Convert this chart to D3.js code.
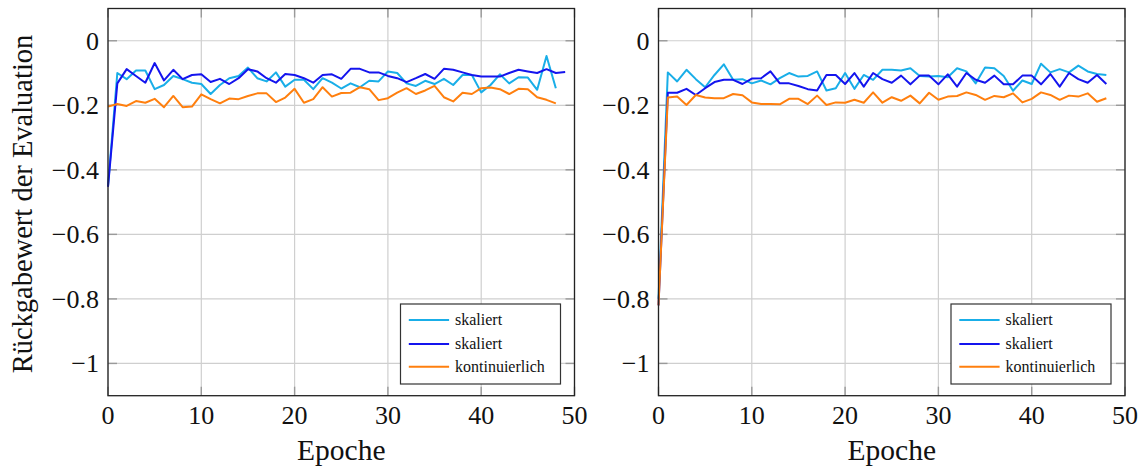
<!DOCTYPE html>
<html>
<head>
<meta charset="utf-8">
<script src="https://cdn.jsdelivr.net/npm/d3@7"></script>
<style>
  body { margin: 0; background: #fff; }
  text { font-family: "Liberation Serif", "DejaVu Serif", serif; fill: #111; }
</style>
</head>
<body>
<div id="chart"></div>
<script>
// Werte
const xTicks = [0, 10, 20, 30, 40, 50];
const yTicks = [0, -0.2, -0.4, -0.6, -0.8, -1];
const legendNames = ["skaliert", "skaliert", "kontinuierlich"];
const colors = ["#19aee8", "#1414ee", "#ff7f0e"];

// linkes Diagramm
const leftScaled1 = [-0.45, -0.100, -0.119, -0.092, -0.092, -0.150, -0.137, -0.109, -0.119, -0.130,
  -0.134, -0.165, -0.137, -0.116, -0.109, -0.083, -0.116, -0.126, -0.098, -0.142,
  -0.121, -0.121, -0.150, -0.116, -0.130, -0.148, -0.132, -0.144, -0.124, -0.126,
  -0.095, -0.100, -0.132, -0.140, -0.124, -0.134, -0.118, -0.137, -0.106, -0.106,
  -0.160, -0.137, -0.104, -0.132, -0.113, -0.114, -0.152, -0.047, -0.147];
const leftScaled2 = [-0.453, -0.132, -0.088, -0.109, -0.130, -0.069, -0.123, -0.090, -0.119, -0.106,
  -0.104, -0.128, -0.118, -0.134, -0.116, -0.088, -0.095, -0.116, -0.130, -0.103,
  -0.106, -0.116, -0.130, -0.106, -0.104, -0.118, -0.087, -0.087, -0.098, -0.098,
  -0.109, -0.116, -0.128, -0.116, -0.103, -0.118, -0.087, -0.090, -0.098, -0.106,
  -0.111, -0.111, -0.111, -0.100, -0.090, -0.095, -0.100, -0.088, -0.100, -0.097];
const leftCont = [-0.204, -0.196, -0.202, -0.187, -0.192, -0.180, -0.206, -0.171, -0.206, -0.204,
  -0.166, -0.181, -0.194, -0.179, -0.181, -0.171, -0.163, -0.163, -0.190, -0.176,
  -0.149, -0.192, -0.181, -0.144, -0.173, -0.162, -0.161, -0.144, -0.150, -0.184,
  -0.178, -0.161, -0.147, -0.165, -0.154, -0.140, -0.175, -0.188, -0.161, -0.165,
  -0.147, -0.145, -0.150, -0.165, -0.149, -0.150, -0.175, -0.183, -0.194];

// rechtes Diagramm
const rightScaled1 = [-0.80, -0.098, -0.126, -0.090, -0.119, -0.144, -0.106, -0.073, -0.121, -0.119,
  -0.132, -0.123, -0.135, -0.116, -0.100, -0.111, -0.109, -0.095, -0.154, -0.147,
  -0.100, -0.149, -0.106, -0.121, -0.090, -0.090, -0.092, -0.085, -0.109, -0.111,
  -0.109, -0.113, -0.085, -0.095, -0.132, -0.083, -0.085, -0.109, -0.155, -0.123,
  -0.134, -0.071, -0.098, -0.088, -0.098, -0.077, -0.095, -0.103, -0.106];
const rightScaled2 = [-0.82, -0.161, -0.161, -0.149, -0.168, -0.147, -0.128, -0.121, -0.121, -0.134,
  -0.117, -0.116, -0.095, -0.132, -0.132, -0.140, -0.150, -0.154, -0.106, -0.106,
  -0.134, -0.100, -0.142, -0.100, -0.119, -0.130, -0.108, -0.135, -0.108, -0.108,
  -0.135, -0.104, -0.142, -0.100, -0.121, -0.130, -0.108, -0.135, -0.135, -0.108,
  -0.108, -0.135, -0.103, -0.142, -0.100, -0.119, -0.130, -0.106, -0.134];
const rightCont = [-0.82, -0.176, -0.173, -0.199, -0.168, -0.176, -0.178, -0.178, -0.165, -0.169,
  -0.191, -0.196, -0.196, -0.197, -0.180, -0.180, -0.196, -0.170, -0.199, -0.191,
  -0.192, -0.183, -0.192, -0.160, -0.192, -0.175, -0.186, -0.170, -0.194, -0.161,
  -0.183, -0.173, -0.171, -0.160, -0.168, -0.183, -0.171, -0.175, -0.163, -0.191,
  -0.180, -0.160, -0.168, -0.183, -0.170, -0.173, -0.163, -0.189, -0.178];

const W = 1144, H = 468;
const plotW = 466.5, plotTop = 8.5, plotBottom = 395.7;

const svg = d3.select("#chart").append("svg")
  .attr("width", W)
  .attr("height", H);

function drawPanel(left, seriesList, withYLabel) {
  const g = svg.append("g").attr("transform", "translate(" + left + ",0)");

  const x = d3.scaleLinear().domain([0, 50]).range([0, plotW]);
  const y = d3.scaleLinear().domain([-1.1, 0.1]).range([plotBottom, plotTop]);

  // Gitter
  g.selectAll(".gx").data(xTicks).enter().append("line")
    .attr("x1", d => x(d)).attr("x2", d => x(d))
    .attr("y1", plotTop).attr("y2", plotBottom)
    .attr("stroke", "#cfcfcf").attr("stroke-width", 1.2);
  g.selectAll(".gy").data(yTicks).enter().append("line")
    .attr("x1", 0).attr("x2", plotW)
    .attr("y1", d => y(d)).attr("y2", d => y(d))
    .attr("stroke", "#cfcfcf").attr("stroke-width", 1.2);

  // Tick-Striche innen (pgfplots Stil)
  const tl = 9;
  g.selectAll(".tyl").data(yTicks).enter().append("line")
    .attr("x1", 0).attr("x2", tl).attr("y1", d => y(d)).attr("y2", d => y(d))
    .attr("stroke", "#9a9a9a").attr("stroke-width", 1.4);
  g.selectAll(".tyr").data(yTicks).enter().append("line")
    .attr("x1", plotW - tl).attr("x2", plotW).attr("y1", d => y(d)).attr("y2", d => y(d))
    .attr("stroke", "#9a9a9a").attr("stroke-width", 1.4);
  g.selectAll(".txb").data(xTicks).enter().append("line")
    .attr("x1", d => x(d)).attr("x2", d => x(d)).attr("y1", plotBottom - tl).attr("y2", plotBottom)
    .attr("stroke", "#9a9a9a").attr("stroke-width", 1.4);
  g.selectAll(".txt").data(xTicks).enter().append("line")
    .attr("x1", d => x(d)).attr("x2", d => x(d)).attr("y1", plotTop).attr("y2", plotTop + tl)
    .attr("stroke", "#9a9a9a").attr("stroke-width", 1.4);

  // Linien
  const line = d3.line().x((d, i) => x(i)).y(d => y(d));
  seriesList.forEach(function(s, k) {
    g.append("path")
      .datum(s)
      .attr("fill", "none")
      .attr("stroke", colors[k])
      .attr("stroke-width", 2)
      .attr("stroke-linejoin", "round")
      .attr("d", line);
  });

  // Rahmen
  g.append("rect")
    .attr("x", 0).attr("y", plotTop)
    .attr("width", plotW).attr("height", plotBottom - plotTop)
    .attr("fill", "none").attr("stroke", "#222").attr("stroke-width", 1.3);

  // Achsenbeschriftung
  g.selectAll(".lx").data(xTicks).enter().append("text")
    .attr("x", d => x(d)).attr("y", 424)
    .attr("text-anchor", "middle")
    .attr("font-size", "26px")
    .text(d => d);
  g.selectAll(".ly").data(yTicks).enter().append("text")
    .attr("x", -9).attr("y", d => y(d) + 9)
    .attr("text-anchor", "end")
    .attr("font-size", "26px")
    .text(d => d === 0 ? "0" : "\u2212" + String(Math.abs(d)));

  g.append("text")
    .attr("x", plotW / 2).attr("y", 460)
    .attr("text-anchor", "middle")
    .attr("font-size", "29.5px")
    .text("Epoche");

  if (withYLabel) {
    g.append("text")
      .attr("transform", "translate(" + (32 - left) + "," + 204 + ") rotate(-90)")
      .attr("text-anchor", "middle")
      .attr("font-size", "28.5px")
      .text("Rückgabewert der Evaluation");
  }

  // Legende
  const lx = plotW - 14 - 160, ly = 304;
  const leg = g.append("g").attr("transform", "translate(" + lx + "," + ly + ")");
  leg.append("rect")
    .attr("width", 160).attr("height", 80)
    .attr("fill", "#fff").attr("stroke", "#333").attr("stroke-width", 1.2);
  const rows = [16, 40, 62.7];
  legendNames.forEach(function(name, k) {
    leg.append("line")
      .attr("x1", 8.3).attr("x2", 48.6)
      .attr("y1", rows[k]).attr("y2", rows[k])
      .attr("stroke", colors[k]).attr("stroke-width", 2);
    leg.append("text")
      .attr("x", 54.5).attr("y", rows[k] + 5)
      .attr("font-size", "16px")
      .text(name);
  });
}

drawPanel(108, [leftScaled1, leftScaled2, leftCont], true);
drawPanel(658.5, [rightScaled1, rightScaled2, rightCont], false);
</script>
</body>
</html>
